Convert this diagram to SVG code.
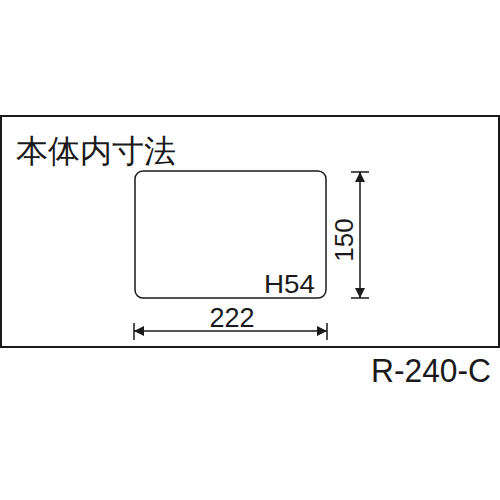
<svg xmlns="http://www.w3.org/2000/svg" width="500" height="500" viewBox="0 0 500 500">
<defs>
<style>
.ln{stroke:#1a1a1a;stroke-width:1.5;fill:none}
.tx{font-family:"Liberation Sans",Arial,sans-serif;fill:#1a1a1a}
</style>
<marker id="ah" viewBox="0 0 10 10" refX="10" refY="5" markerWidth="10" markerHeight="10" markerUnits="userSpaceOnUse" orient="auto-start-reverse">
<path d="M0,0 L10,5 L0,10 Z" fill="#1a1a1a"/>
</marker>
</defs>
<rect width="500" height="500" fill="#fff"/>
<g id="frame">
<rect x="1" y="116" width="498" height="231" fill="none" stroke="#1a1a1a" stroke-width="2"/>
<text class="tx" x="16" y="162" font-size="32" font-family="'Noto Sans CJK JP','Liberation Sans',sans-serif">本体内寸法</text>
</g>
<g id="box">
<rect x="135" y="171" width="191" height="127" rx="8" class="ln"/>
<text class="tx" x="264" y="293" font-size="25" textLength="51" lengthAdjust="spacingAndGlyphs">H54</text>
</g>
<g id="connectors">
<line x1="360" y1="172" x2="360" y2="298" class="ln" marker-start="url(#ah)" marker-end="url(#ah)"/>
<line x1="351" y1="172" x2="369" y2="172" class="ln"/>
<line x1="351" y1="298" x2="369" y2="298" class="ln"/>
<line x1="134" y1="331" x2="327" y2="331" class="ln" marker-start="url(#ah)" marker-end="url(#ah)"/>
<line x1="134" y1="323" x2="134" y2="340" class="ln"/>
<line x1="327" y1="323" x2="327" y2="340" class="ln"/>
</g>
<g id="labels">
<text class="tx" x="232" y="327" font-size="27" text-anchor="middle">222</text>
<text class="tx" transform="translate(353,240) rotate(-90)" font-size="26" text-anchor="middle">150</text>
<text class="tx" x="371" y="382" font-size="34" textLength="120" lengthAdjust="spacingAndGlyphs">R-240-C</text>
</g>
</svg>
